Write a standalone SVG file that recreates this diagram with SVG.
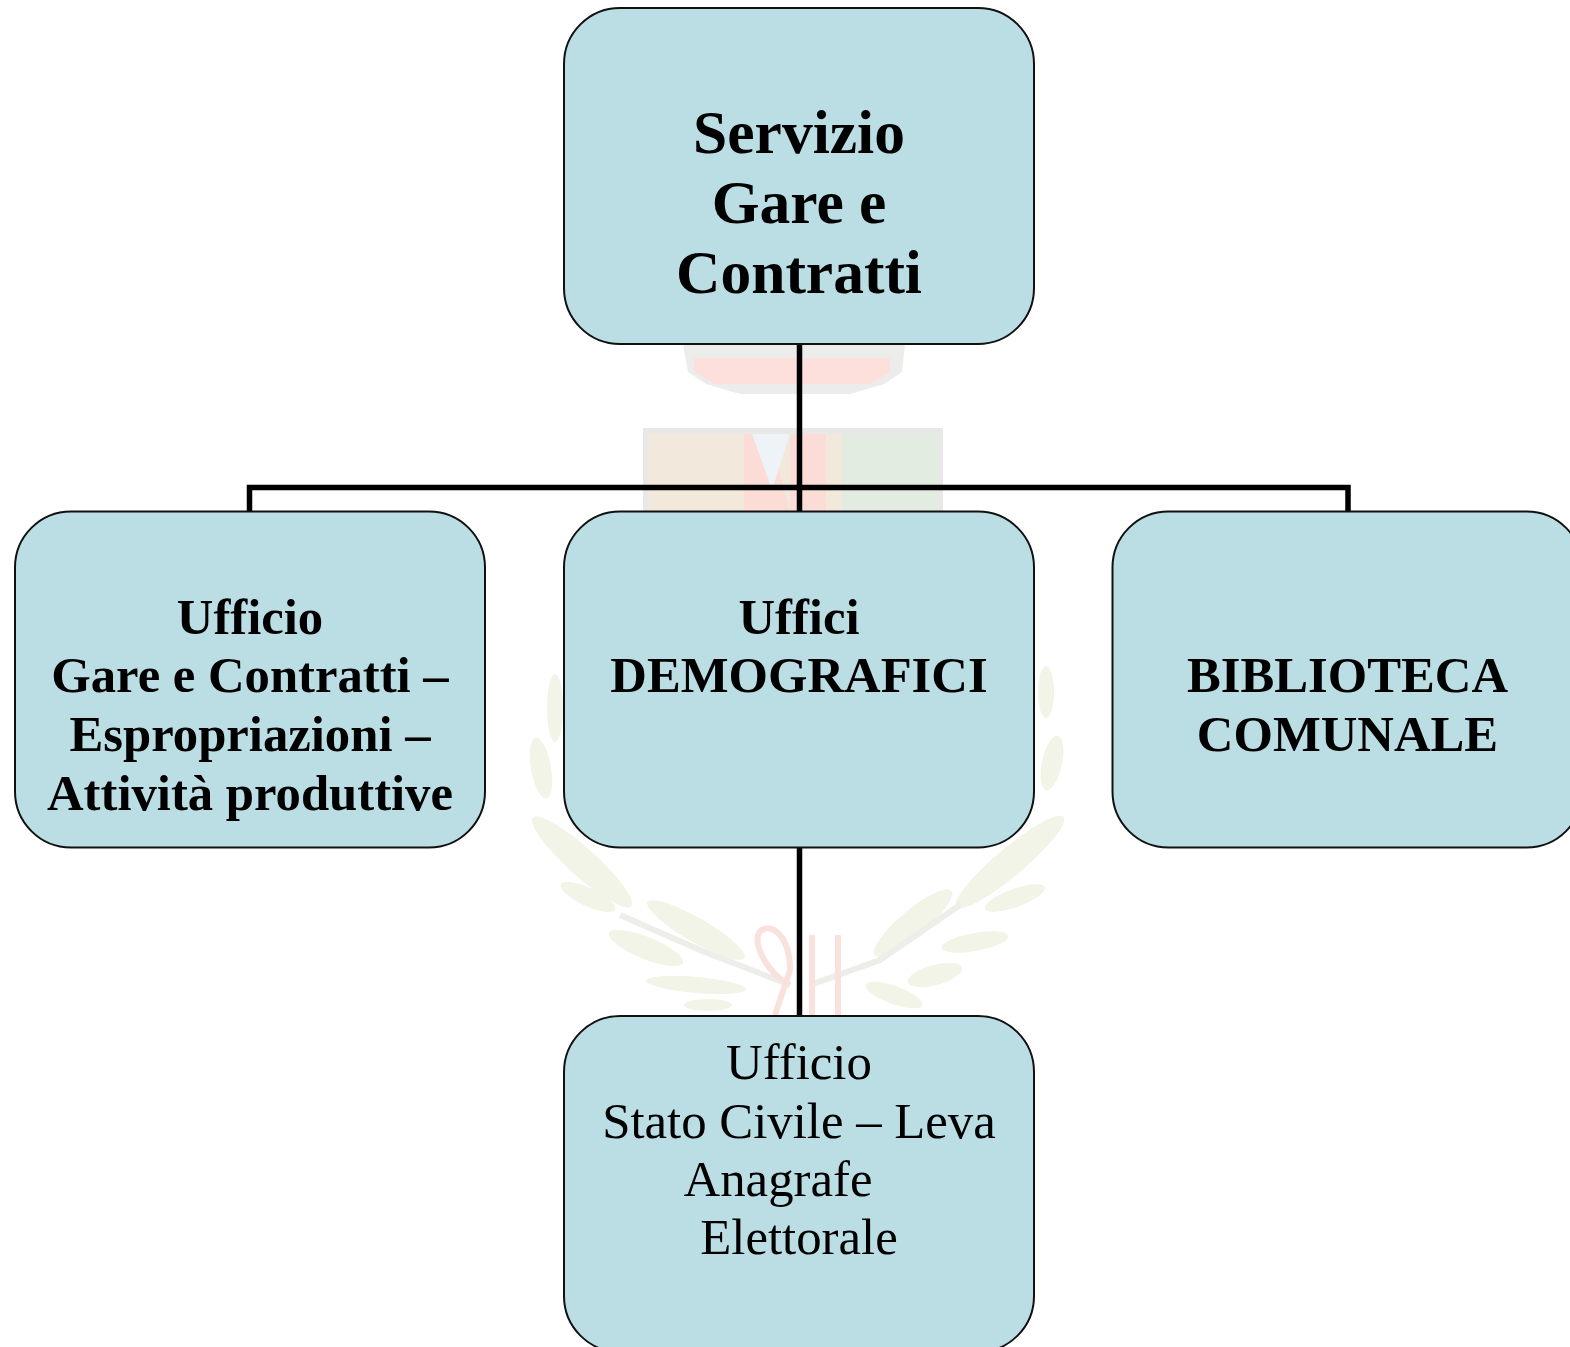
<svg xmlns="http://www.w3.org/2000/svg" width="1570" height="1347" viewBox="0 0 1570 1347">
<style>
.box{fill:#bbdee4;stroke:#111;stroke-width:2}
.c{fill:none;stroke:#000;stroke-width:5.5}
.leaf{fill:#f1f4e7}
.stem{fill:none;stroke:#ededea;stroke-width:6}
.rib{fill:none;stroke:#f9e2de;stroke-width:6}
text{font-family:"Liberation Serif",serif;text-anchor:middle;fill:#000}
.t{font-size:61.5px;font-weight:bold}
.b{font-size:50.7px;font-weight:bold}
.r{font-size:50.8px}
</style>
<rect width="1570" height="1347" fill="#fff"/>
<g id="watermark">
<path d="M683 344H905L902 372L884 384L850 394H740L706 384L688 372Z" fill="#ececea"/>
<path d="M694 358H890V372L870 384H715L694 372Z" fill="#fde0dc"/>
<rect x="643" y="428" width="300" height="84" fill="#e8e8e6"/>
<rect x="648" y="434" width="290" height="78" fill="#f2e8dc"/>
<rect x="842" y="434" width="96" height="78" fill="#e2ece0"/>
<path d="M744 434H770L790 512H744Z" fill="#fbdcd6"/>
<path d="M790 434H826V512H790Z" fill="#fbdcd6"/>
<path d="M752 434H790L772 490Z" fill="#eef3f8"/>
<ellipse class="leaf" cx="555" cy="708" rx="34" ry="8" transform="rotate(90 555 708)"/>
<ellipse class="leaf" cx="541" cy="768" rx="31" ry="10" transform="rotate(80 541 768)"/>
<ellipse class="leaf" cx="582" cy="862" rx="66" ry="14" transform="rotate(42 582 862)"/>
<ellipse class="leaf" cx="588" cy="897" rx="30" ry="9" transform="rotate(25 588 897)"/>
<ellipse class="leaf" cx="646" cy="948" rx="40" ry="11" transform="rotate(22 646 948)"/>
<ellipse class="leaf" cx="696" cy="930" rx="56" ry="12" transform="rotate(30 696 930)"/>
<ellipse class="leaf" cx="696" cy="985" rx="50" ry="8" transform="rotate(5 696 985)"/>
<ellipse class="leaf" cx="708" cy="1005" rx="24" ry="6"/>
<path class="stem" d="M620 915L700 950L790 985"/>
<ellipse class="leaf" cx="1046" cy="692" rx="26" ry="8" transform="rotate(-90 1046 692)"/>
<ellipse class="leaf" cx="1052" cy="763" rx="28" ry="10" transform="rotate(-78 1052 763)"/>
<ellipse class="leaf" cx="1010" cy="862" rx="70" ry="14" transform="rotate(-40 1010 862)"/>
<ellipse class="leaf" cx="1015" cy="898" rx="32" ry="9" transform="rotate(-20 1015 898)"/>
<ellipse class="leaf" cx="913" cy="923" rx="50" ry="13" transform="rotate(-40 913 923)"/>
<ellipse class="leaf" cx="975" cy="942" rx="34" ry="9" transform="rotate(-10 975 942)"/>
<ellipse class="leaf" cx="935" cy="975" rx="28" ry="10" transform="rotate(-15 935 975)"/>
<ellipse class="leaf" cx="894" cy="995" rx="30" ry="9" transform="rotate(20 894 995)"/>
<path class="stem" d="M960 905L880 960L810 985"/>
<path class="rib" d="M775 1015L790 970C790 930 765 920 758 935C755 950 770 975 790 985M838 935V1015M812 935V1015"/>
</g>
<g id="connectors">
<path class="c" d="M799.5 344V511M249.5 511V487.5H1348V511M799.5 847V1016"/>
</g>
<g id="n1"><rect class="box" x="564" y="8" width="470" height="336" rx="56"/>
<text class="t"><tspan x="799" y="153">Servizio</tspan><tspan x="799" y="223">Gare e</tspan><tspan x="799" y="293">Contratti</tspan></text></g>
<g id="n2"><rect class="box" x="15" y="511.5" width="470" height="336" rx="56"/>
<text class="b"><tspan x="250" y="634">Ufficio</tspan><tspan x="250" y="692">Gare e Contratti –</tspan><tspan x="250" y="751">Espropriazioni –</tspan><tspan x="250" y="810">Attività produttive</tspan></text></g>
<g id="n3"><rect class="box" x="564" y="511.5" width="470" height="336" rx="56"/>
<text class="b"><tspan x="799" y="634">Uffici</tspan><tspan x="799" y="692">DEMOGRAFICI</tspan></text></g>
<g id="n4"><rect class="box" x="1112.5" y="511.5" width="470" height="336" rx="56"/>
<text class="b"><tspan x="1347.5" y="692">BIBLIOTECA</tspan><tspan x="1347.5" y="751">COMUNALE</tspan></text></g>
<g id="n5"><rect class="box" x="564" y="1016" width="470" height="336" rx="56"/>
<text class="r"><tspan x="799" y="1079">Ufficio</tspan><tspan x="799" y="1138">Stato Civile – Leva</tspan><tspan x="778" y="1196">Anagrafe</tspan><tspan x="799" y="1254">Elettorale</tspan></text></g>
</svg>
